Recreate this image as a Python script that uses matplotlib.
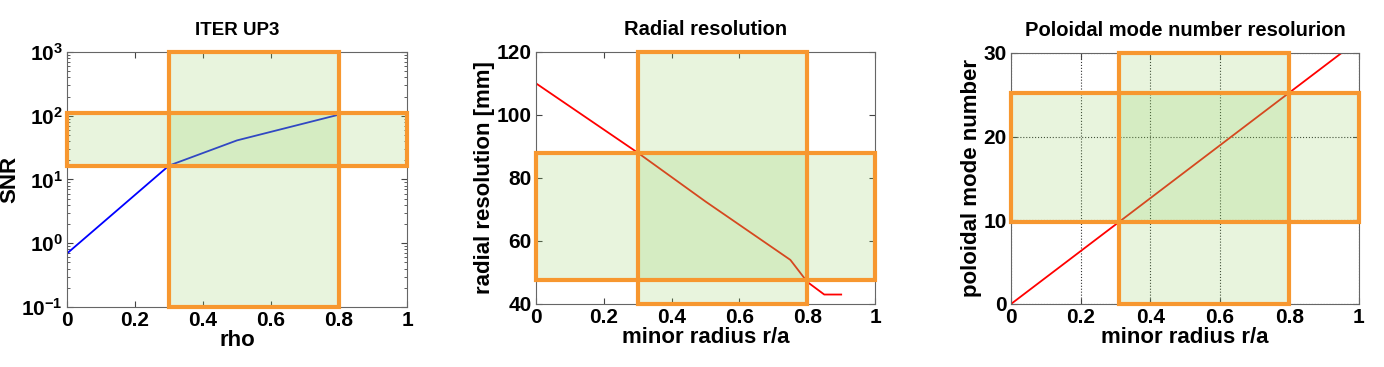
import matplotlib
matplotlib.use("Agg")
import matplotlib.pyplot as plt
from matplotlib.patches import Rectangle
from matplotlib.ticker import FixedLocator, FixedFormatter, LogLocator, NullFormatter

plt.rcParams['font.family'] = ['Liberation Sans', 'DejaVu Sans']
plt.rcParams['font.weight'] = 'bold'
plt.rcParams['mathtext.fontset'] = 'custom'
plt.rcParams['mathtext.rm'] = 'Liberation Sans:bold'
plt.rcParams['mathtext.it'] = 'Liberation Sans:bold'
plt.rcParams['mathtext.bf'] = 'Liberation Sans:bold'

# --- data ---
snr_rho = [0.0, 0.3, 0.5, 0.8]
snr_val = [0.69, 16.5, 41, 104]
snr_xrange = (0.3, 0.8)
snr_yrange = (16.5, 110)

rad_r = [0.0, 0.3, 0.5, 0.75, 0.8, 0.85, 0.9]
rad_val = [110, 88, 72.5, 54, 47, 43, 43]
rad_xrange = (0.3, 0.8)
rad_yrange = (47.5, 88)

pol_r = [0.0, 0.95]
pol_val = [0.0, 30.0]
pol_xrange = (0.31, 0.8)
pol_yrange = (9.8, 25.2)

x_ticks = [0, 0.2, 0.4, 0.6, 0.8, 1]
x_labels = ['0', '0.2', '0.4', '0.6', '0.8', '1']

ORANGE = '#f7972f'
GREEN = (0.55, 0.8, 0.35)
TFS = 15   # tick labels
LFS = 16   # axis labels
HFS = 14.5 # titles

fig = plt.figure(figsize=(13.84, 3.67), dpi=100)


def style(ax):
    ax.tick_params(direction='in', top=True, right=True, labelsize=TFS, length=4,
                   color='#444444', pad=3)
    for s in ax.spines.values():
        s.set_color('#666666')
    ax.xaxis.set_major_locator(FixedLocator(x_ticks))
    ax.xaxis.set_major_formatter(FixedFormatter(x_labels))
    for lab in ax.get_xticklabels() + ax.get_yticklabels():
        lab.set_fontweight('bold')


def boxes(ax, xr, yr, xlim, ylim):
    # vertical band
    ax.add_patch(Rectangle((xr[0], ylim[0]), xr[1] - xr[0], ylim[1] - ylim[0],
                           facecolor=GREEN, alpha=0.2, edgecolor='none', zorder=3))
    ax.add_patch(Rectangle((xr[0], ylim[0]), xr[1] - xr[0], ylim[1] - ylim[0],
                           facecolor='none', edgecolor=ORANGE, lw=3, zorder=4,
                           clip_on=False))
    # horizontal band
    ax.add_patch(Rectangle((xlim[0], yr[0]), xlim[1] - xlim[0], yr[1] - yr[0],
                           facecolor=GREEN, alpha=0.2, edgecolor='none', zorder=3))
    ax.add_patch(Rectangle((xlim[0], yr[0]), xlim[1] - xlim[0], yr[1] - yr[0],
                           facecolor='none', edgecolor=ORANGE, lw=3, zorder=4,
                           clip_on=False))


# panel 1: SNR
ax1 = fig.add_axes([0.0484, 0.1635, 0.2457, 0.695])
ax1.semilogy(snr_rho, snr_val, color='blue', lw=1.3, zorder=2)
ax1.set_xlim(0, 1)
ax1.set_ylim(0.1, 1000)
boxes(ax1, snr_xrange, snr_yrange, (0, 1), (0.1, 1000))
ax1.yaxis.set_major_locator(FixedLocator([0.1, 1, 10, 100, 1000]))
ax1.yaxis.set_major_formatter(FixedFormatter([r'$10^{-1}$', r'$10^{0}$', r'$10^{1}$',
                                              r'$10^{2}$', r'$10^{3}$']))
ax1.yaxis.set_minor_locator(LogLocator(base=10, subs=range(2, 10)))
ax1.yaxis.set_minor_formatter(NullFormatter())
style(ax1)
ax1.tick_params(which='minor', direction='in', right=True, length=2, color='#444444')
ax1.set_title('ITER UP3', fontsize=HFS - 1, fontweight='bold', pad=12)
ax1.set_xlabel('rho', fontsize=LFS, fontweight='bold', labelpad=0)
ax1.set_ylabel('SNR', fontsize=LFS, fontweight='bold', labelpad=1)

# panel 2: radial resolution
ax2 = fig.add_axes([0.3873, 0.1717, 0.245, 0.687])
ax2.plot(rad_r, rad_val, color='red', lw=1.3, zorder=2)
ax2.set_xlim(0, 1)
ax2.set_ylim(40, 120)
boxes(ax2, rad_xrange, rad_yrange, (0, 1), (40, 120))
ax2.yaxis.set_major_locator(FixedLocator([40, 60, 80, 100, 120]))
style(ax2)
ax2.set_title('Radial resolution', fontsize=HFS, fontweight='bold', pad=12)
ax2.set_xlabel('minor radius r/a', fontsize=LFS, fontweight='bold', labelpad=0)
ax2.set_ylabel('radial resolution [mm]', fontsize=LFS, fontweight='bold', labelpad=1)

# panel 3: poloidal mode number
ax3 = fig.add_axes([0.7305, 0.1717, 0.2514, 0.684])
ax3.plot(pol_r, pol_val, color='red', lw=1.3, zorder=2)
ax3.set_xlim(0, 1)
ax3.set_ylim(0, 30)
boxes(ax3, pol_xrange, pol_yrange, (0, 1), (0, 30))
ax3.yaxis.set_major_locator(FixedLocator([0, 10, 20, 30]))
style(ax3)
ax3.grid(True, linestyle=':', color='#333333', lw=0.8, zorder=1)
ax3.set_axisbelow(True)
ax3.set_title('Poloidal mode number resolurion', fontsize=HFS, fontweight='bold', pad=12)
ax3.set_xlabel('minor radius r/a', fontsize=LFS, fontweight='bold', labelpad=0)
ax3.set_ylabel('poloidal mode number', fontsize=LFS, fontweight='bold', labelpad=1)

fig.savefig('out.png', dpi=100)
